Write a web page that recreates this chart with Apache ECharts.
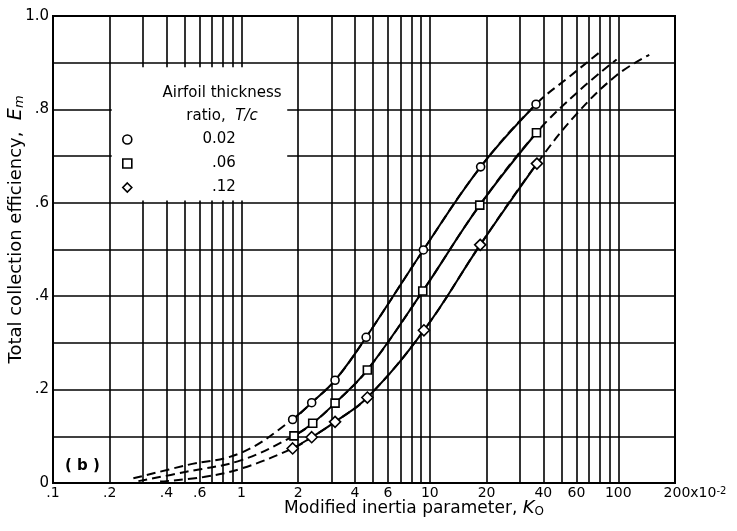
<!DOCTYPE html>
<html>
<head>
<meta charset="utf-8">
<script src="https://cdn.jsdelivr.net/npm/echarts@6/dist/echarts.min.js"></script>
<style>
  html, body { margin: 0; padding: 0; background: #fff; }
  #chart { width: 737px; height: 531px; }
</style>
</head>
<body>
<div id="chart"></div>
<script>
// Total collection efficiency Em versus modified inertia parameter K0 (units of 1e-2)
const thicknessRatios = ['0.02', '.06', '.12'];
const markerShapes = ['circle', 'rect', 'diamond'];

// measured points [K0, Em]
const pointsT002 = [[1.87, 0.136], [2.36, 0.172], [3.14, 0.220], [4.59, 0.312], [9.24, 0.499], [18.6, 0.677], [36.6, 0.811]];
const pointsT006 = [[1.90, 0.101], [2.39, 0.128], [3.14, 0.171], [4.66, 0.242], [9.17, 0.411], [18.4, 0.595], [36.8, 0.750]];
const pointsT012 = [[1.87, 0.074], [2.36, 0.098], [3.14, 0.131], [4.66, 0.183], [9.30, 0.327], [18.5, 0.510], [37.0, 0.684]];

// extrapolated (dashed) ends of each faired curve
const lowTailT002 = [[0.267, 0.010], [0.51, 0.038], [1, 0.065]];
const lowTailT006 = [[0.284, 0.004], [0.51, 0.024], [1, 0.049]];
const lowTailT012 = [[0.37, 0.003], [0.63, 0.013], [1, 0.031]];
const highTailT002 = [[55, 0.870], [80, 0.923]];
const highTailT006 = [[62, 0.840], [98, 0.907]];
const highTailT012 = [[60, 0.790], [98, 0.873], [146, 0.917]];

// log-paper rulings and tick labels
const xGridValues = [0.1, 0.2, 0.3, 0.4, 0.5, 0.6, 0.7, 0.8, 0.9,
                     1, 2, 3, 4, 5, 6, 7, 8, 9,
                     10, 20, 30, 40, 50, 60, 70, 80, 90,
                     100, 200];
const xLabelValues = [0.1, 0.2, 0.4, 0.6, 1, 2, 4, 6, 10, 20, 40, 60, 100, 200];
const xLabelTexts = ['.1', '.2', '.4', '.6', '1', '2', '4', '6', '10', '20', '40', '60', '100', '{a|200x10}{b|-2}'];
const yLabelValues = [0, 0.2, 0.4, 0.6, 0.8, 1.0];
const yLabelTexts = ['0', '.2', '.4', '.6', '.8', '1.0'];

// key box area (K0 range, Em range) kept clear of rulings
const keyBoxK = [0.205, 1.75];
const keyBoxE = [0.605, 0.89];

const FONT = 'DejaVu Sans';
const INK = '#000';
const SMOOTH = 0.4;

function pickLabel(values, texts, v) {
  for (let i = 0; i < values.length; i++) {
    if (Math.abs(values[i] - v) <= values[i] * 1e-6 + 1e-9) return texts[i];
  }
  return '';
}

const pointSets = [pointsT002, pointsT006, pointsT012];
const lowTails = [lowTailT002, lowTailT006, lowTailT012];
const highTails = [highTailT002, highTailT006, highTailT012];

const series = [];
pointSets.forEach((pts, i) => {
  // whole faired curve, dashed; the measured span is overdrawn solid
  series.push({
    type: 'line',
    data: lowTails[i].concat(pts, highTails[i]),
    smooth: SMOOTH,
    symbol: 'none',
    lineStyle: { color: INK, width: 2, type: [9, 5] },
    z: 4,
    animation: false
  });
  series.push({
    name: thicknessRatios[i],
    type: 'line',
    data: pts,
    smooth: SMOOTH,
    symbol: markerShapes[i],
    symbolSize: markerShapes[i] === 'diamond' ? 11 : 8,
    showAllSymbol: true,
    lineStyle: { color: INK, width: 2 },
    itemStyle: { color: '#fff', borderColor: INK, borderWidth: 1.6 },
    z: 5,
    animation: false
  });
});

// white key box covering the rulings
series.push({
  type: 'line',
  data: [],
  markArea: {
    silent: true,
    itemStyle: { color: '#fff', opacity: 1 },
    data: [[{ xAxis: keyBoxK[0], yAxis: keyBoxE[1] }, { xAxis: keyBoxK[1], yAxis: keyBoxE[0] }]]
  },
  z: 3,
  animation: false
});

const chart = echarts.init(document.getElementById('chart'), null, { renderer: 'canvas' });
chart.setOption({
  backgroundColor: '#fff',
  animation: false,
  textStyle: { fontFamily: FONT, color: INK },
  grid: {
    left: 53, right: 62, top: 16, bottom: 48,
    containLabel: false, outerBoundsMode: 'none',
    show: true, borderColor: INK, borderWidth: 2, backgroundColor: 'transparent'
  },
  title: [
    {
      text: 'Airfoil thickness\n{r|ratio,}  {i|T/c}',
      left: 217, top: 77, textAlign: 'center',
      textStyle: {
        fontFamily: FONT, fontSize: 15, fontWeight: 'normal', color: INK, lineHeight: 23,
        rich: {
          r: { fontFamily: FONT, fontSize: 15, color: INK, lineHeight: 23 },
          i: { fontFamily: FONT, fontSize: 15, fontStyle: 'italic', color: INK, lineHeight: 23 }
        }
      }
    },
    {
      text: '( b )',
      left: 60, top: 454,
      textStyle: { fontFamily: FONT, fontSize: 15, fontWeight: 'bold', color: INK }
    }
  ],
  legend: {
    orient: 'vertical',
    left: 122, top: 132,
    padding: 0,
    itemWidth: 9, itemHeight: 9, itemGap: 9,
    selectedMode: false,
    data: thicknessRatios.map((name, i) => ({
      name: name,
      icon: markerShapes[i],
      itemStyle: { color: '#fff', borderColor: INK, borderWidth: 1.6 }
    })),
    formatter: name => '{a|' + name + '}',
    textStyle: {
      rich: { a: { width: 99, align: 'right', fontFamily: FONT, fontSize: 15, color: INK, lineHeight: 15 } }
    }
  },
  xAxis: {
    type: 'log',
    logBase: 10,
    min: 0.1,
    max: 200,
    name: 'Modified inertia parameter, {i|K}{s|O}',
    nameLocation: 'middle',
    nameMoveOverlap: false,
    nameGap: 16,
    nameTextStyle: {
      fontFamily: FONT, fontSize: 17, color: INK, padding: [0, 0, 0, 100],
      rich: {
        i: { fontFamily: FONT, fontSize: 18, fontStyle: 'italic', color: INK },
        s: { fontFamily: FONT, fontSize: 12, color: INK, verticalAlign: 'bottom', padding: [7, 0, 0, 0] }
      }
    },
    axisLine: { show: true, lineStyle: { color: INK, width: 2 } },
    axisTick: { show: false, customValues: xGridValues },
    splitLine: { show: true, lineStyle: { color: INK, width: 1.6 } },
    axisLabel: {
      customValues: xLabelValues,
      margin: 3,
      fontFamily: FONT, fontSize: 14, color: INK,
      formatter: v => pickLabel(xLabelValues, xLabelTexts, v),
      rich: {
        a: { fontFamily: FONT, fontSize: 14, color: INK, padding: [0, 0, 0, 40] },
        b: { fontFamily: FONT, fontSize: 10, color: INK, verticalAlign: 'top' }
      }
    }
  },
  yAxis: {
    type: 'value',
    min: 0,
    max: 1,
    interval: 0.1,
    name: 'Total collection efficiency,  {i|E}{s|m}',
    nameLocation: 'middle',
    nameMoveOverlap: false,
    nameRotate: 90,
    nameGap: 27,
    nameTextStyle: {
      fontFamily: FONT, fontSize: 18, color: INK, padding: [0, 0, 0, 40],
      rich: {
        i: { fontFamily: FONT, fontSize: 19, fontStyle: 'italic', color: INK },
        s: { fontFamily: FONT, fontSize: 13, fontStyle: 'italic', color: INK, verticalAlign: 'bottom' }
      }
    },
    axisLine: { show: true, lineStyle: { color: INK, width: 2 } },
    axisTick: { show: false },
    splitLine: { show: true, lineStyle: { color: INK, width: 1.6 } },
    axisLabel: {
      customValues: yLabelValues,
      margin: 4,
      fontFamily: FONT, fontSize: 15, color: INK,
      formatter: v => pickLabel(yLabelValues, yLabelTexts, v)
    }
  },
  series: series
});
</script>
</body>
</html>
